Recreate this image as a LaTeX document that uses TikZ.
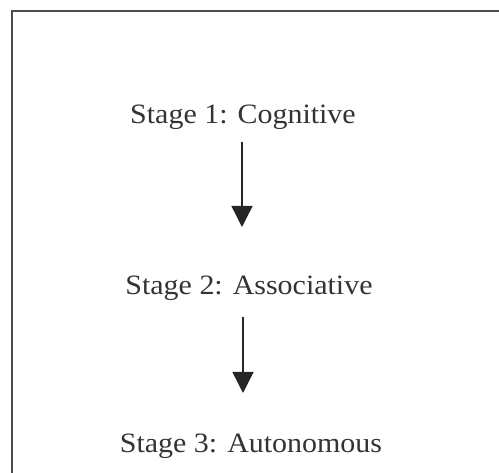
\documentclass[tikz,border=0pt]{standalone}
\usepackage{fontspec}
\setmainfont{Liberation Serif}
\usetikzlibrary{arrows.meta}
\begin{document}
\begin{tikzpicture}[x=1pt,y=-1pt,
  stage/.style={font=\fontsize{28}{32}\selectfont, text=black!80, inner sep=0pt, anchor=base},
  arr/.style={draw=black!85, line width=1.4pt, -{Triangle[width=21pt,length=21pt]}},
  frame/.style={draw=black!70, line width=2pt}]
  \useasboundingbox (0,0) rectangle (499,473);
  \begin{scope}
    \clip (0,0) rectangle (499,473);
    % open frame running off the right and bottom edges
    \draw[frame] (11.5,490) -- (11.5,11.5) -- (515,11.5);
  \end{scope}
  \node[stage] (s1) at (243,124) {\scalebox{1.07}[1]{Stage 1: Cognitive}};
  \node[stage] (s2) at (249,295) {\scalebox{1.07}[1]{Stage 2: Associative}};
  \node[stage] (s3) at (251,453) {\scalebox{1.07}[1]{Stage 3: Autonomous}};
  \coordinate (a1s) at (242,142);
  \coordinate (a1e) at (242,227);
  \coordinate (a2s) at (243,317);
  \coordinate (a2e) at (243,393);
  \draw[arr] (a1s) -- (a1e);
  \draw[arr] (a2s) -- (a2e);
\end{tikzpicture}
\end{document}
